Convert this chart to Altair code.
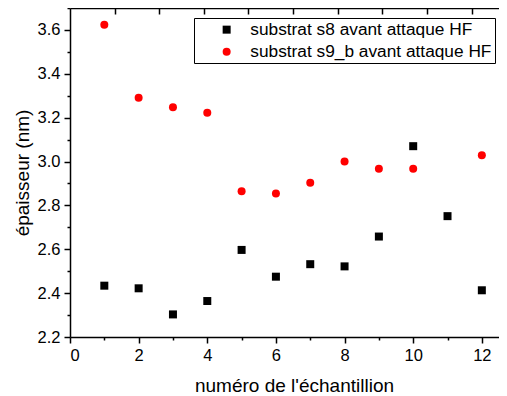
import altair as alt
import pandas as pd

# ---- data ----
series_names = ["substrat s8 avant attaque HF", "substrat s9_b avant attaque HF"]
sample_s8 = [1, 2, 3, 4, 5, 6, 7, 8, 9, 10, 11, 12]
thick_s8 = [2.434, 2.422, 2.303, 2.364, 2.597, 2.475, 2.532, 2.522, 2.658, 3.070, 2.751, 2.413]
sample_s9 = [1, 2, 3, 4, 5, 6, 7, 8, 9, 10, 12]
thick_s9 = [3.624, 3.291, 3.248, 3.222, 2.865, 2.854, 2.903, 3.000, 2.967, 2.967, 3.029]
x_ticks = list(range(0, 13))
y_ticks = [round(2.2 + 0.1 * i, 1) for i in range(0, 16)]
top_ticks = [1.3, 2.6, 3.9, 5.2, 6.5, 7.8, 9.1, 10.4, 11.7]

df = pd.concat([
    pd.DataFrame({"sample": sample_s8, "thick": thick_s8, "series": series_names[0]}),
    pd.DataFrame({"sample": sample_s9, "thick": thick_s9, "series": series_names[1]}),
])

FONT = "Liberation Sans"
x_scale = alt.Scale(domain=[0, 12.5], nice=False, zero=False)
y_scale = alt.Scale(domain=[2.2, 3.7], nice=False, zero=False)

major_x = "abs(datum.value/2 - round(datum.value/2)) < 0.001"
major_y = "abs(datum.value*5 - round(datum.value*5)) < 0.001"

points = alt.Chart(df).mark_point(filled=True, size=64, opacity=1).encode(
    x=alt.X(
        "sample:Q", scale=x_scale,
        axis=alt.Axis(
            title="numéro de l'échantillion", values=x_ticks,
            labelExpr=f"{major_x} ? datum.label : ''",
            tickSize={"condition": {"test": major_x, "value": 6}, "value": 3},
            labelPadding=4, titlePadding=13, titleX=224, grid=False,
        ),
    ),
    y=alt.Y(
        "thick:Q", scale=y_scale,
        axis=alt.Axis(
            title="épaisseur (nm)", values=y_ticks,
            labelExpr=f"{major_y} ? datum.label : ''",
            tickSize={"condition": {"test": major_y, "value": 6}, "value": 3},
            labelPadding=4, titlePadding=5, grid=False,
        ),
    ),
    color=alt.Color(
        "series:N", title=None,
        scale=alt.Scale(domain=series_names, range=["#000000", "#ff0000"]),
        legend=alt.Legend(
            orient="none", legendX=124, legendY=10,
            strokeColor="black", fillColor="white",
            padding=3, symbolOffset=21, labelOffset=15, rowPadding=4,
            symbolSize=64, labelFont=FONT, labelFontSize=17.3, labelColor="black",
            labelLimit=400,
        ),
    ),
    shape=alt.Shape(
        "series:N", title=None,
        scale=alt.Scale(domain=series_names, range=["square", "circle"]),
    ),
)

top = alt.Chart(df).mark_point(opacity=0).encode(
    x=alt.X(
        "sample:Q", scale=x_scale,
        axis=alt.Axis(
            orient="top", title=None, labels=False, values=top_ticks,
            tickSize={"expr": "-6"}, grid=False,
        ),
    ),
)

chart = alt.layer(points, top).resolve_axis(x="independent").properties(
    width=429, height=329,
    autosize=alt.AutoSizeParams(type="none"),
    padding={"left": 62, "top": 0, "right": 0, "bottom": 60},
).configure_view(stroke=None).configure_axis(
    labelFont=FONT, titleFont=FONT, labelFontSize=16.5, titleFontSize=19,
    titleFontWeight="normal", labelColor="black", titleColor="black",
    domainColor="black", tickColor="black", domainWidth=1.5, tickWidth=1.5,
)

chart.save("out.html", embed_options={"renderer": "svg", "actions": False})
